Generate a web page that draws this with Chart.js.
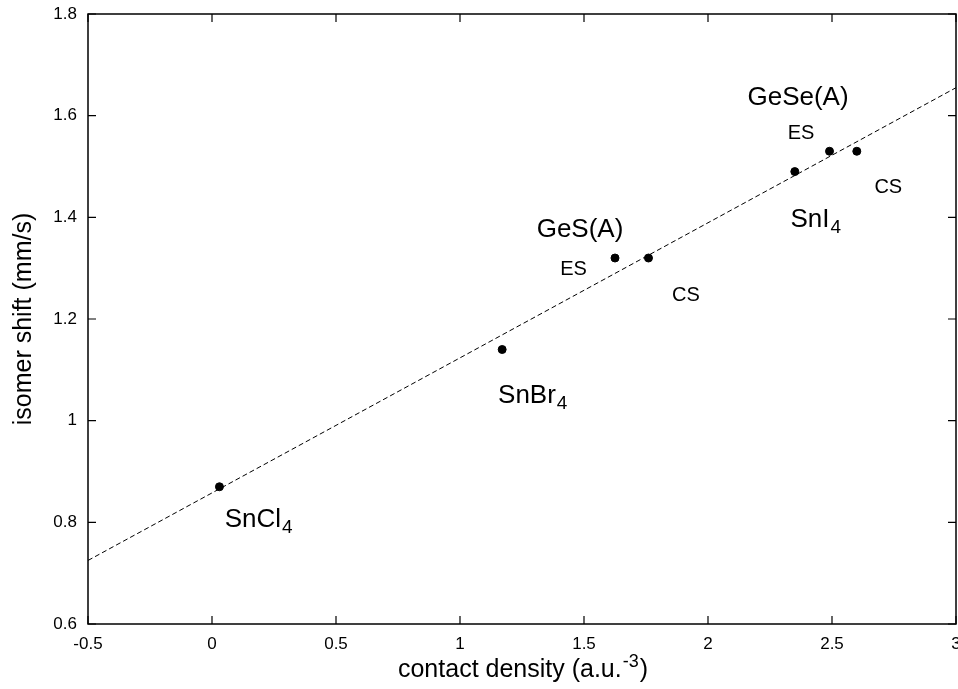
<!DOCTYPE html>
<html>
<head>
<meta charset="utf-8">
<script src="https://cdn.jsdelivr.net/npm/chart.js@4/dist/chart.umd.min.js"></script>
<style>
  html, body { margin: 0; padding: 0; background: #fff; }
  #wrap { width: 958px; height: 689px; }
</style>
</head>
<body>
<div id="wrap"><canvas id="chart"></canvas></div>
<script>
// Measured points
var pointX = [0.03, 1.17, 1.625, 1.76, 2.35, 2.49, 2.60];
var pointY = [0.87, 1.14, 1.32, 1.32, 1.49, 1.53, 1.53];

// Linear fit (dashed)
var fitX = [-0.5, 3];
var fitY = [0.725, 1.655];

// Axis ticks
var xTicks = [-0.5, 0, 0.5, 1, 1.5, 2, 2.5, 3];
var yTicks = [0.6, 0.8, 1, 1.2, 1.4, 1.6, 1.8];

// Text labels in the plot (data coords of the label centre)
var labelText = ['GeSe(A)', 'ES', 'CS', 'SnI', 'GeS(A)', 'ES', 'CS', 'SnBr', 'SnCl'];
var labelSub  = ['', '', '', '4', '', '', '', '4', '4'];
var labelX    = [2.363, 2.375, 2.727, 2.411, 1.484, 1.458, 1.911, 1.270, 0.165];
var labelY    = [1.639, 1.569, 1.462, 1.399, 1.380, 1.300, 1.249, 1.054, 0.809];
var labelBig  = [true, false, false, true, true, false, false, true, true];

var FONT = '"Liberation Sans", Arial, Helvetica, sans-serif';

function toPoints(xs, ys) {
    return xs.map(function(x, i) { return { x: x, y: ys[i] }; });
}

// Frame, inward ticks, labels and axis titles
var decorPlugin = {
    id: 'decor',
    afterDraw: function(chart) {
        var ctx = chart.ctx;
        var area = chart.chartArea;
        var xs = chart.scales.x;
        var ys = chart.scales.y;
        var tick = 8;

        ctx.save();
        ctx.strokeStyle = '#000';
        ctx.lineWidth = 1.5;
        ctx.strokeRect(area.left, area.top, area.right - area.left, area.bottom - area.top);

        ctx.lineWidth = 1.2;
        ctx.beginPath();
        xTicks.forEach(function(v) {
            var px = xs.getPixelForValue(v);
            ctx.moveTo(px, area.bottom); ctx.lineTo(px, area.bottom - tick);
            ctx.moveTo(px, area.top); ctx.lineTo(px, area.top + tick);
        });
        yTicks.forEach(function(v) {
            var py = ys.getPixelForValue(v);
            ctx.moveTo(area.left, py); ctx.lineTo(area.left + tick, py);
            ctx.moveTo(area.right, py); ctx.lineTo(area.right - tick, py);
        });
        ctx.stroke();

        // labels
        ctx.fillStyle = '#000';
        ctx.textBaseline = 'alphabetic';
        ctx.textAlign = 'left';
        labelText.forEach(function(t, i) {
            var size = labelBig[i] ? 26 : 20;
            ctx.font = size + 'px ' + FONT;
            var w = ctx.measureText(t).width;
            var cx = xs.getPixelForValue(labelX[i]);
            var cy = ys.getPixelForValue(labelY[i]);
            var x0 = cx - w / 2;
            var base = cy + size * 0.36;
            ctx.fillText(t, x0, base);
            if (labelSub[i]) {
                ctx.font = Math.round(size * 0.72) + 'px ' + FONT;
                ctx.fillText(labelSub[i], x0 + w + 1, base + size * 0.24);
            }
        });

        // x title with superscript
        var size = 25;
        var t1 = 'contact density (a.u.', t2 = '-3', t3 = ')';
        ctx.font = size + 'px ' + FONT;
        var w1 = ctx.measureText(t1).width;
        var w3 = ctx.measureText(t3).width;
        ctx.font = Math.round(size * 0.72) + 'px ' + FONT;
        var w2 = ctx.measureText(t2).width;
        var start = (area.left + area.right) / 2 - (w1 + w2 + w3) / 2;
        var base = 677;
        ctx.font = size + 'px ' + FONT;
        ctx.fillText(t1, start, base);
        ctx.fillText(t3, start + w1 + w2 + 2, base);
        ctx.font = Math.round(size * 0.72) + 'px ' + FONT;
        ctx.fillText(t2, start + w1 + 1, base - size * 0.42);

        // y title
        ctx.font = size + 'px ' + FONT;
        ctx.translate(31, (area.top + area.bottom) / 2);
        ctx.rotate(-Math.PI / 2);
        ctx.textAlign = 'center';
        ctx.fillText('isomer shift (mm/s)', 0, 0);
        ctx.restore();
    }
};

var chart = new Chart(document.getElementById('chart'), {
    type: 'scatter',
    data: {
        datasets: [
            {
                label: 'fit',
                type: 'line',
                data: toPoints(fitX, fitY),
                borderColor: '#000',
                borderWidth: 1,
                borderDash: [5, 3],
                pointRadius: 0,
                fill: false,
                tension: 0
            },
            {
                label: 'data',
                data: toPoints(pointX, pointY),
                backgroundColor: '#000',
                borderColor: '#000',
                pointRadius: 4,
                pointHoverRadius: 4
            }
        ]
    },
    options: {
        responsive: true,
        maintainAspectRatio: false,
        animation: false,
        devicePixelRatio: 1,
        layout: { autoPadding: false, padding: { top: 14, right: 2, left: 0, bottom: 0 } },
        plugins: {
            legend: { display: false },
            tooltip: { enabled: false }
        },
        scales: {
            x: {
                type: 'linear',
                min: -0.5,
                max: 3,
                grid: { display: false, drawTicks: false },
                border: { display: false },
                afterBuildTicks: function(scale) {
                    scale.ticks = xTicks.map(function(v) { return { value: v }; });
                },
                afterFit: function(scale) {
                    scale.height = 65;
                    scale.paddingLeft = 0;
                    scale.paddingRight = 0;
                },
                ticks: {
                    padding: 10,
                    maxRotation: 0,
                    color: '#000',
                    font: { family: FONT, size: 17 },
                    callback: function(v) { return String(v); }
                }
            },
            y: {
                type: 'linear',
                min: 0.6,
                max: 1.8,
                grid: { display: false, drawTicks: false },
                border: { display: false },
                afterBuildTicks: function(scale) {
                    scale.ticks = yTicks.map(function(v) { return { value: v }; });
                },
                afterFit: function(scale) {
                    scale.width = 88;
                    scale.paddingTop = 0;
                    scale.paddingBottom = 0;
                },
                ticks: {
                    padding: 11,
                    color: '#000',
                    font: { family: FONT, size: 17 },
                    callback: function(v) { return String(v); }
                }
            }
        }
    },
    plugins: [decorPlugin]
});
</script>
</body>
</html>
